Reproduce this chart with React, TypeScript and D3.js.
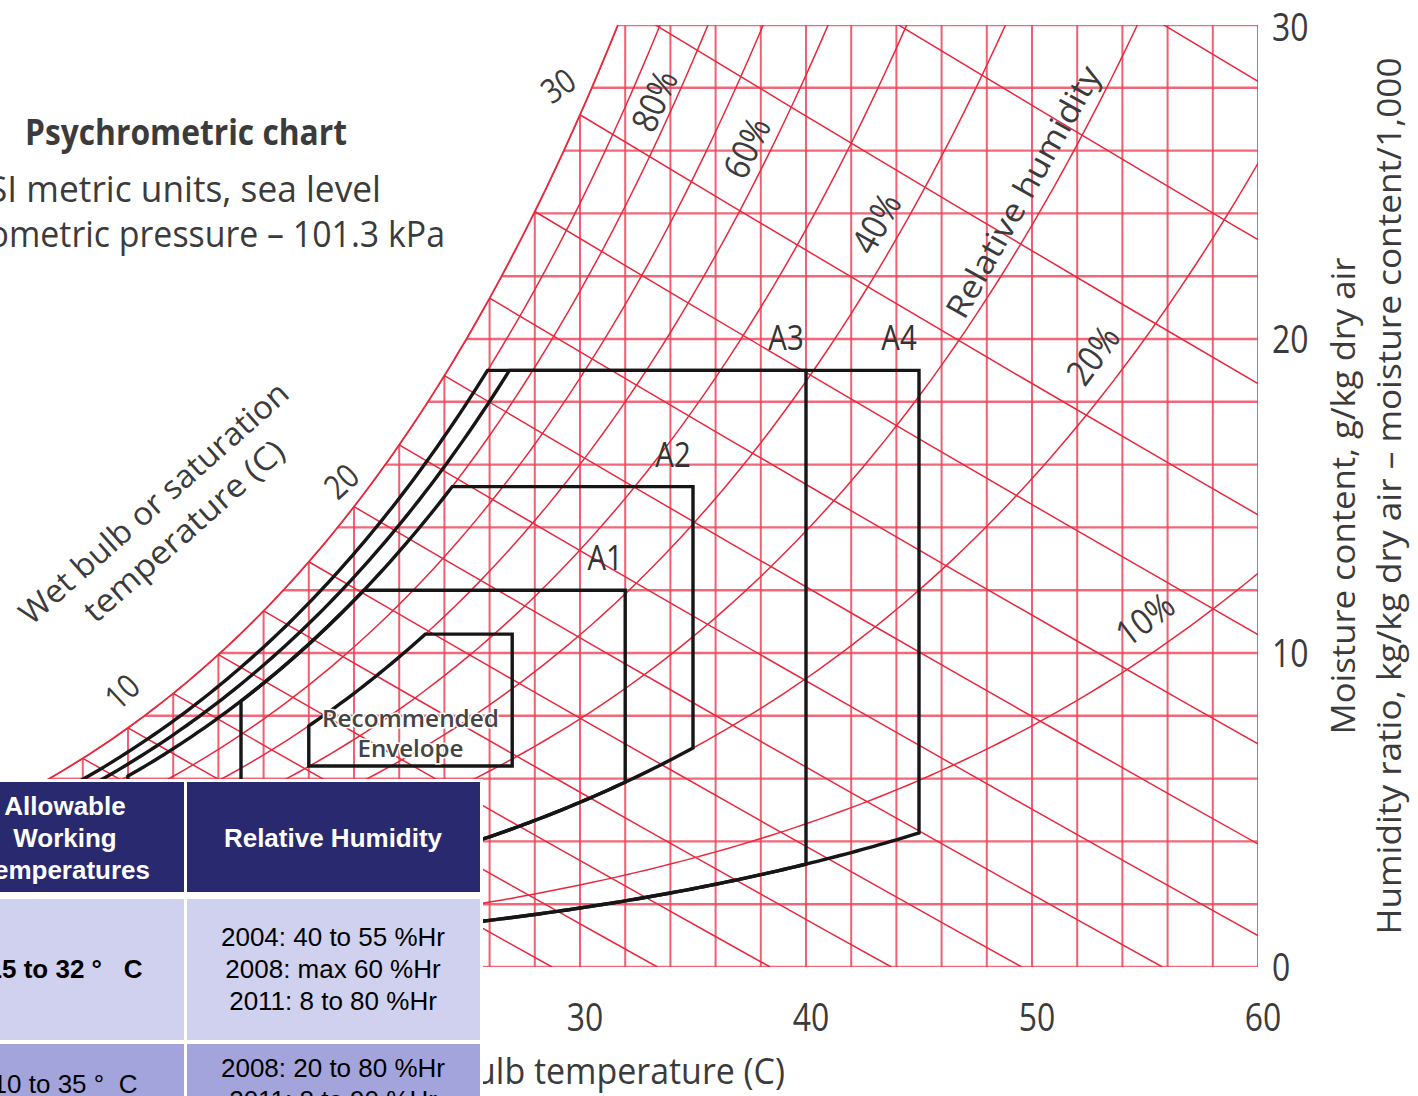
import React from "react"
import * as d3 from "d3"

const W = 1418
const H = 1096
const P = 101.325 // kPa, sea level

// axes
const tempTicks = [30, 40, 50, 60]
const moistTicks = [0, 10, 20, 30]
const rhLevels = [10, 20, 30, 40, 50, 60, 70, 80, 90, 100]
const wetBulbLevels = [-12, -10, -8, -6, -4, -2, 0, 2, 4, 6, 8, 10, 12, 14, 16, 18, 20, 22, 24, 26, 28, 30, 32, 34, 36]

// labels on the red curves
const rhLabels = [
  { text: "80%", rh: 80, w: 27.6, dx: -22 },
  { text: "60%", rh: 60, w: 26.1, dx: -26 },
  { text: "40%", rh: 40, w: 23.7, dx: -30 },
  { text: "20%", rh: 20, w: 19.5, dx: -41 },
  { text: "10%", rh: 10, w: 11.1, dx: -56 },
]
const wetBulbLabels = [
  { text: "10", t: 9.7, w: 8.8, rot: -43 },
  { text: "20", t: 19.4, w: 15.5, rot: -43 },
  { text: "30", t: 29.0, w: 28.1, rot: -35 },
]

// ASHRAE envelopes: dry bulb C, RH %, moisture g/kg
const envelopes = [
  { name: "A1", tMin: 15, tMax: 32, rhMin: 20, rhMax: 80, wMin: 0, wMax: 12.0 },
  { name: "A2", tMin: 10, tMax: 35, rhMin: 20, rhMax: 80, wMin: 0, wMax: 15.3 },
  { name: "A3", tMin: 5, tMax: 40, rhMin: 7.2, rhMax: 85, wMin: 1.3, wMax: 19.0 },
  { name: "A4", tMin: 5, tMax: 45, rhMin: 7.2, rhMax: 90, wMin: 1.3, wMax: 19.0 },
]
const recommended = { name: "Recommended", tMin: 18, tMax: 27, rhMin: 0, rhMax: 60, wMin: 6.4, wMax: 10.6 }

// table
const tableHeader = [["Allowable", "Working", "Temperatures"], ["Relative Humidity"]]
const tableRows = [
  { temp: "15 to 32 °   C", bold: true, rh: ["2004: 40 to 55 %Hr", "2008: max 60 %Hr", "2011: 8 to 80 %Hr"] },
  { temp: "10 to 35 °  C", bold: false, rh: ["2008: 20 to 80 %Hr", "2011: 8 to 90 %Hr"] },
]

const psat = (t: number) => 0.61094 * Math.exp((17.625 * t) / (t + 243.04))
const wAt = (t: number, rh: number) => {
  const pv = (rh / 100) * psat(t)
  return (622 * pv) / (P - pv)
}
const tAt = (w: number, rh: number) => {
  let lo = -40
  let hi = 120
  for (let i = 0; i < 60; i++) {
    const mid = (lo + hi) / 2
    if (wAt(mid, rh) < w) lo = mid
    else hi = mid
  }
  return (lo + hi) / 2
}
const wetBulbPoints = (twb: number) => {
  const ws = wAt(twb, 100) / 1000
  const t0 = twb + ((2501 - 2.326 * twb) * ws) / 1.006
  return d3.range(0, 1.001, 0.1).map(f => {
    const t = twb + f * (t0 - twb)
    const w = ((2501 - 2.326 * twb) * ws - 1.006 * (t - twb)) / (2501 + 1.86 * t - 4.186 * twb)
    return [t, Math.max(0, w * 1000)] as [number, number]
  })
}

const x = d3.scaleLinear().domain([30, 60]).range([580, 1258])
const y = d3.scaleLinear().domain([0, 30]).range([967, 25])
const line = d3.line<[number, number]>().x(d => x(d[0])).y(d => y(d[1]))

const envelopePath = (e: typeof recommended) => {
  const lower = d3.range(e.tMin, e.tMax + 0.001, 0.25).map(t => [t, Math.max(wAt(t, e.rhMin), e.wMin)] as [number, number])
  const tTop = tAt(e.wMax, e.rhMax)
  const upper = d3.range(tTop, e.tMin - 0.001, -0.25).map(t => [t, Math.min(wAt(t, e.rhMax), e.wMax)] as [number, number])
  upper.push([e.tMin, wAt(e.tMin, e.rhMax)])
  const pts: [number, number][] = [...lower, [e.tMax, e.wMax], [tTop, e.wMax], ...upper]
  return line(pts) + "Z"
}

const FONT = "'Open Sans', 'Noto Sans', sans-serif"
const INK = "#3b3b3b"

function Txt(props: any) {
  const { x: tx, y: ty, rot = 0, size, anchor = "middle", weight = 400, len, base = "central", sx = 0.84, fill = INK, halo = false, children } = props
  return (
    <text
      transform={`translate(${tx},${ty}) rotate(${rot}) scale(${len ? 1 : sx},1)`}
      fontFamily={FONT}
      fontSize={size}
      fontWeight={weight}
      textAnchor={anchor}
      dominantBaseline={base}
      fill={fill}
      textLength={len}
      lengthAdjust={len ? "spacingAndGlyphs" : undefined}
      stroke={halo ? "#ffffff" : undefined}
      strokeWidth={halo ? 3 : undefined}
      paintOrder="stroke"
    >
      {children}
    </text>
  )
}

export default function App() {
  const tTopSat = tAt(30, 100)
  const satPts = d3.range(-20, tTopSat, 0.25).map(t => [t, wAt(t, 100)] as [number, number])
  satPts.push([tTopSat, 30])
  const clipPts: [number, number][] = [...satPts, [60, 30], [60, 0], [-20, 0]]

  const red = "#e8283c"
  const gridRed = "#ee4457"

  return (
    <svg width={W} height={H} style={{ position: "absolute", left: 0, top: 0, background: "#fff" }}>
      <defs>
        <clipPath id="chartArea">
          <path d={line(clipPts) + "Z"} />
        </clipPath>
      </defs>
      <rect width={W} height={H} fill="#fff" />

      <g clipPath="url(#chartArea)" fill="none">
        {d3.range(-20, 61, 2).map(t => (
          <line key={"v" + t} x1={x(t)} x2={x(t)} y1={y(0)} y2={y(30)} stroke={gridRed} strokeWidth={2} opacity={0.85} />
        ))}
        {d3.range(0, 31, 2).map(w => (
          <line key={"h" + w} x1={x(-20)} x2={x(60)} y1={y(w)} y2={y(w)} stroke={gridRed} strokeWidth={2.4} opacity={0.8} />
        ))}
        {rhLevels.map(rh => (
          <path key={"rh" + rh} d={line(d3.range(-20, 62, 0.5).map(t => [t, wAt(t, rh)] as [number, number])) || ""} stroke={red} strokeWidth={1.5} />
        ))}
        {wetBulbLevels.map(twb => (
          <path key={"wb" + twb} d={line(wetBulbPoints(twb)) || ""} stroke={red} strokeWidth={1.5} />
        ))}
      </g>
      <path d={line(satPts) || ""} fill="none" stroke={red} strokeWidth={1.8} />

      {/* curve labels */}
      {rhLabels.map(l => {
        const t = tAt(l.w, l.rh)
        const dxp = x(t + 0.2) - x(t)
        const dyp = y(wAt(t + 0.2, l.rh)) - y(wAt(t, l.rh))
        const ang = (Math.atan2(dyp, dxp) * 180) / Math.PI
        return (
          <Txt key={l.text} x={x(t) + l.dx} y={y(l.w)} rot={ang} size={36} sx={0.88}>
            {l.text}
          </Txt>
        )
      })}
      {(() => {
        const t = tAt(24.7, 32)
        const ang = (Math.atan2(y(wAt(t + 0.2, 32)) - y(wAt(t, 32)), x(t + 0.2) - x(t)) * 180) / Math.PI
        return (
          <Txt x={x(t)} y={y(24.7)} rot={ang} size={32} len={283}>
            Relative humidity
          </Txt>
        )
      })()}
      {wetBulbLabels.map(l => (
        <Txt key={l.text} x={x(l.t)} y={y(l.w)} rot={l.rot} size={34}>
          {l.text}
        </Txt>
      ))}

      {/* envelopes */}
      <g fill="none" stroke="#161616" strokeWidth={3.4} strokeLinejoin="miter">
        {envelopes.map(e => (
          <path key={e.name} d={envelopePath(e)} />
        ))}
        <path d={envelopePath(recommended)} />
      </g>
      {envelopes.map(e => (
        <Txt key={"l" + e.name} x={x(e.tMax) - 20} y={y(e.wMax) - 34} size={35} fill="#333">
          {e.name}
        </Txt>
      ))}
      <Txt x={x((recommended.tMin + recommended.tMax) / 2)} y={y(recommended.wMin) - 49} size={24} weight={600} len={177} fill="#444" halo>
        Recommended
      </Txt>
      <Txt x={x((recommended.tMin + recommended.tMax) / 2)} y={y(recommended.wMin) - 19} size={24} weight={600} len={106} fill="#444" halo>
        Envelope
      </Txt>

      {/* axes */}
      {tempTicks.map(t => (
        <Txt key={"xt" + t} x={x(t) + 5} y={1031} base="alphabetic" size={38}>
          {t}
        </Txt>
      ))}
      {moistTicks.map(w => (
        <Txt key={"yt" + w} x={1272} y={y(w) + 14 + (w === 30 ? 2 : 0)} base="alphabetic" anchor="start" size={38}>
          {w}
        </Txt>
      ))}
      <Txt x={785} y={1084} base="alphabetic" anchor="end" size={36} len={395}>
        Dry bulb temperature (C)
      </Txt>
      <Txt x={1342} y={496} rot={-90} size={32} len={477}>
        Moisture content, g/kg dry air
      </Txt>
      <Txt x={1388} y={496} rot={-90} size={32} len={877}>
        Humidity ratio, kg/kg dry air – moisture content/1,000
      </Txt>
      <Txt x={153} y={502} rot={-41.5} size={32} len={347}>
        Wet bulb or saturation
      </Txt>
      <Txt x={183} y={530} rot={-41.5} size={32} len={256}>
        temperature (C)
      </Txt>

      {/* title */}
      <Txt x={25} y={145} base="alphabetic" anchor="start" size={36} weight={700} len={322}>
        Psychrometric chart
      </Txt>
      <Txt x={381} y={202} base="alphabetic" anchor="end" size={36} len={393}>
        SI metric units, sea level
      </Txt>
      <Txt x={445} y={247} base="alphabetic" anchor="end" size={36} len={511}>
        Barometric pressure – 101.3 kPa
      </Txt>

      {/* table overlay */}
      <g fontFamily="'Liberation Sans', Arial, sans-serif" fontSize={26} textAnchor="middle">
        <rect x={-10} y={779} width={493} height={330} fill="#fff" />
        <rect x={-10} y={782} width={194} height={110} fill="#29296f" />
        <rect x={187} y={782} width={293} height={110} fill="#29296f" />
        {tableHeader.map((lines, ci) =>
          lines.map((s, i) => (
            <text key={"h" + ci + i} x={ci === 0 ? 65 : 333} y={838 + (i - (lines.length - 1) / 2) * 32} dominantBaseline="central" fill="#fff" fontWeight={700}>
              {s}
            </text>
          ))
        )}
        {tableRows.map((r, ri) => {
          const top = ri === 0 ? 899 : 1044
          const h = ri === 0 ? 141 : 80
          const fill = ri === 0 ? "#d0d0ef" : "#a4a4dc"
          const cy = ri === 0 ? 969 : 1084
          return (
            <g key={"r" + ri}>
              <rect x={-10} y={top} width={194} height={h} fill={fill} />
              <rect x={187} y={top} width={293} height={h} fill={fill} />
              <text x={65} y={cy} dominantBaseline="central" fill="#000" fontWeight={r.bold ? 700 : 400} xmlSpace="preserve" style={{ whiteSpace: "pre" }}>
                {r.temp}
              </text>
              {r.rh.map((s, i) => (
                <text key={i} x={333} y={cy + (i - (r.rh.length - 1) / 2) * 32} dominantBaseline="central" fill="#000">
                  {s}
                </text>
              ))}
            </g>
          )
        })}
      </g>
    </svg>
  )
}
